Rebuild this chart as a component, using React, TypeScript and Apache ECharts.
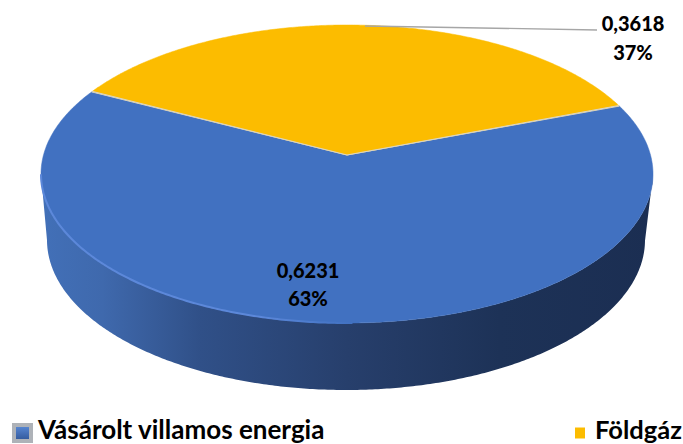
import React, { useEffect, useRef } from "react";
import * as echarts from "echarts";

const categories = ["Vásárolt villamos energia", "Földgáz"];
const values = [0.6231, 0.3618];
const valueLabels = ["0,6231", "0,3618"];
const colors = ["#4171c1", "#fcbc00"];

const total = values.reduce((a, b) => a + b, 0);
const START_ANGLE = 69.6;
const top = { cx: 347, cy: 174, rx: 306, ry: 149 };
const bottom = { cx: 346, cy: 240, rx: 299, ry: 150 };
const A = -0.1275;
const S = Math.sqrt(1 - A * A);

function unit(deg: number) {
  const t = (deg * Math.PI) / 180;
  const u = Math.sin(t);
  const v = -Math.cos(t);
  const d = 1 + A * v;
  return { u: (u * S) / d, v: (v + A) / d };
}
const place = (e: typeof top, p: { u: number; v: number }) => [e.cx + e.rx * p.u, e.cy + e.ry * p.v];

const labelPlaces = [
  { x: 308, y1: 270, y2: 298 },
  { x: 633, y1: 23, y2: 52 },
];

function sliceRange(index: number) {
  let start = START_ANGLE;
  for (let i = 0; i < index; i++) start += (values[i] / total) * 360;
  return [start, start + (values[index] / total) * 360];
}

function renderSlice(index: number) {
  const [a0, a1] = sliceRange(index);
  const arc: number[][] = [];
  const wallTop: number[][] = [];
  const wallBottom: number[][] = [];
  const rim: number[][] = [];
  for (let d = a0; d <= a1 + 1e-6; d += 0.5) {
    const p = unit(d);
    arc.push(place(top, p));
    if (p.v >= 0) {
      wallTop.push(place(top, p));
      wallBottom.push(place(bottom, p));
      if (p.u <= 0.02) rim.push(place(top, p));
    }
  }
  const apex = [top.cx, top.cy + top.ry * A];
  const children: any[] = [];
  if (wallTop.length) {
    children.push({
      type: "polygon",
      shape: { points: [...wallTop, ...wallBottom.reverse()] },
      style: {
        fill: new echarts.graphic.LinearGradient(0, 0, 1, 0, [
          { offset: 0, color: "#4270b8" },
          { offset: 0.1, color: "#3f69ad" },
          { offset: 0.26, color: "#305088" },
          { offset: 0.5, color: "#273f6c" },
          { offset: 0.75, color: "#1d3257" },
          { offset: 1, color: "#1b2e52" },
        ]),
      },
    });
  }
  children.push({
    type: "polygon",
    shape: { points: [apex, ...arc] },
    style: { fill: colors[index], stroke: colors[index], lineWidth: 0.5 },
  });
  if (rim.length) {
    children.push({
      type: "polyline",
      shape: { points: rim },
      style: {
        fill: "none",
        lineWidth: 2,
        stroke: new echarts.graphic.LinearGradient(0, 0, 1, 0, [
          { offset: 0, color: "#5c88da" },
          { offset: 0.7, color: "#5c88da" },
          { offset: 1, color: "#4171c1" },
        ]),
      },
    });
  }
  children.push({
    type: "polyline",
    shape: { points: [arc[0], apex, arc[arc.length - 1]] },
    style: { fill: "none", stroke: "#d8d6cc", lineWidth: 1 },
  });
  if (index === 1) {
    children.push({
      type: "polyline",
      shape: { points: [[365, 26], [597, 30]] },
      style: { fill: "none", stroke: "#a6a6a6", lineWidth: 1.3 },
    });
  }
  const lp = labelPlaces[index];
  const font = "900 20px Lato, sans-serif";
  const pct = Math.round((values[index] / total) * 100) + "%";
  children.push(
    { type: "text", style: { text: valueLabels[index], x: lp.x, y: lp.y1, font, fill: "#000", align: "center", verticalAlign: "middle" } },
    { type: "text", style: { text: pct, x: lp.x, y: lp.y2, font, fill: "#000", align: "center", verticalAlign: "middle" } }
  );
  return { type: "group", children };
}

export default function App() {
  const ref = useRef<HTMLDivElement>(null);
  useEffect(() => {
    const chart = echarts.init(ref.current!, null, { renderer: "svg" });
    const richText = (fontSize: number, left: number) => ({
      t: {
        fontFamily: "Lato, sans-serif",
        fontWeight: "bold",
        color: "#000",
        fontSize,
        lineHeight: 26,
        padding: [0, 0, 8, left],
      },
    });
    chart.setOption({
      animation: false,
      backgroundColor: "#fff",
      legend: [
        {
          data: [categories[0]],
          left: 12,
          top: 416,
          padding: 0,
          icon: "rect",
          itemWidth: 17,
          itemHeight: 16,
          itemStyle: {
            color: new echarts.graphic.LinearGradient(0, 0, 0, 1, [
              { offset: 0, color: "#5b8bd8" },
              { offset: 1, color: "#2f5597" },
            ]),
            borderColor: "#aeb2b8",
            borderWidth: 4,
          },
          formatter: "{t|{name}}",
          textStyle: { rich: richText(26, 2) },
          selectedMode: false,
        },
        {
          data: [categories[1]],
          left: 575,
          top: 416,
          padding: 0,
          icon: "rect",
          itemWidth: 10,
          itemHeight: 11,
          formatter: "{t|{name}}",
          textStyle: { rich: richText(25.5, 5) },
          selectedMode: false,
        },
      ],
      series: categories.map((name, index) => ({
        type: "custom",
        name,
        coordinateSystem: "none",
        silent: true,
        itemStyle: { color: colors[index] },
        data: [[values[index]]],
        renderItem: () => renderSlice(index),
      })),
    });
    return () => chart.dispose();
  }, []);
  return <div ref={ref} style={{ position: "fixed", left: 0, top: 0, width: 683, height: 444 }} />;
}
